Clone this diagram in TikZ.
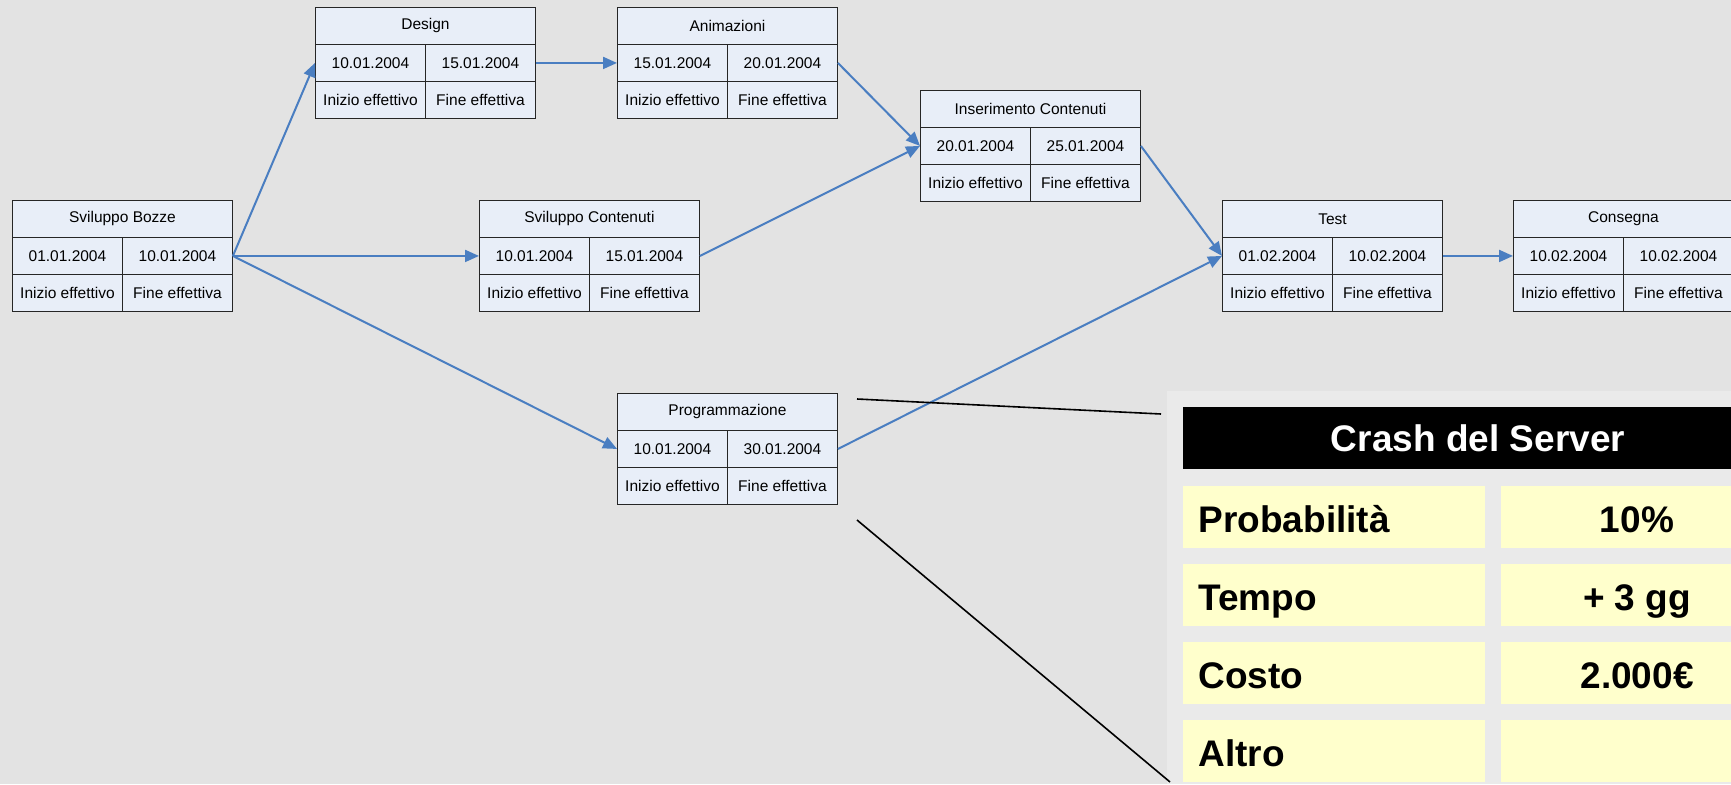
\documentclass[tikz,border=0pt]{standalone}
\usepackage{fontspec}
\setmainfont{Liberation Sans}
\usetikzlibrary{arrows.meta}
\definecolor{bggrey}{RGB}{227,227,227}
\definecolor{panelgrey}{RGB}{234,234,234}
\definecolor{boxfill}{RGB}{232,238,248}
\definecolor{arrblue}{RGB}{74,126,193}
\definecolor{cellyellow}{RGB}{255,255,204}
\tikzset{
  cell/.style={draw=black!85, line width=0.9pt, fill=boxfill, minimum width=110pt, minimum height=37pt,
    anchor=north west, inner sep=0pt, font=\fontsize{15.5}{18}\selectfont},
  ttl/.style={cell, minimum width=220pt},
  arr/.style={draw=arrblue, line width=2pt, -{Triangle[length=14pt,width=12pt]}},
  callout/.style={draw=black, line width=1.6pt},
  ycell/.style={fill=cellyellow, anchor=north west, inner sep=0pt, minimum height=62pt},
  lbl/.style={anchor=base west, font=\fontsize{37}{44}\selectfont\bfseries},
  val/.style={anchor=base, font=\fontsize{37}{44}\selectfont\bfseries}
}
\newcommand{\taskbox}[6]{%
  \node[ttl] (#1) at (#2,#3) {#4};
  \node[cell] (#1s) at (#2,{#3+37}) {#5};
  \node[cell] (#1e) at ({#2+110},{#3+37}) {#6};
  \node[cell] (#1a) at (#2,{#3+74}) {Inizio effettivo};
  \node[cell] (#1b) at ({#2+110},{#3+74}) {Fine effettiva};
}
\begin{document}
\begin{tikzpicture}[x=1pt,y=-1pt]
\useasboundingbox (0,0) rectangle (1731,784);
\fill[bggrey] (0,0) rectangle (1731,784);
% risk panel
\fill[panelgrey] (1167,391) rectangle (1731,784);
\node[fill=black, anchor=north west, minimum width=560pt, minimum height=62pt, inner sep=0pt] (hdr) at (1183,407) {};
\node[anchor=base, text=white, font=\fontsize{37}{44}\selectfont\bfseries] (hdrtxt) at (1478,451) {Crash del Server};
\foreach \r/\yy in {p/486,t/564,c/642,a/720}{
  \node[ycell, minimum width=302pt] (l\r) at (1183,\yy) {};
  \node[ycell, minimum width=240pt] (v\r) at (1501,\yy) {};
}
\node[lbl] (lpt) at (1195,532) {Probabilità};
\node[val] (vpt) at (1637,532) {10\%};
\node[lbl] (ltt) at (1195,610) {Tempo};
\node[val] (vtt) at (1637,610) {+ 3 gg};
\node[lbl] (lct) at (1195,688) {Costo};
\node[val] (vct) at (1637,688) {2.000€};
\node[lbl] (lat) at (1195,766) {Altro};
% task boxes
\taskbox{bozze}{12}{200}{Sviluppo Bozze}{01.01.2004}{10.01.2004}
\taskbox{design}{315}{7}{Design}{10.01.2004}{15.01.2004}
\taskbox{anim}{617}{7}{Animazioni}{15.01.2004}{20.01.2004}
\taskbox{ins}{920}{90}{Inserimento Contenuti}{20.01.2004}{25.01.2004}
\taskbox{svc}{479}{200}{Sviluppo Contenuti}{10.01.2004}{15.01.2004}
\taskbox{test}{1222}{200}{Test}{01.02.2004}{10.02.2004}
\taskbox{cons}{1513}{200}{Consegna}{10.02.2004}{10.02.2004}
\taskbox{prog}{617}{393}{Programmazione}{10.01.2004}{30.01.2004}
% connectors
\draw[arr] (bozzee.east) -- (designs.west);
\draw[arr] (bozzee.east) -- (svcs.west);
\draw[arr] (bozzee.east) -- (progs.west);
\draw[arr] (designe.east) -- (anims.west);
\draw[arr] (anime.east) -- (inss.west);
\draw[arr] (svce.east) -- (inss.west);
\draw[arr] (inse.east) -- (tests.west);
\draw[arr] (proge.east) -- (tests.west);
\draw[arr] (teste.east) -- (conss.west);
% callout lines
\coordinate (c1a) at (857,399);
\coordinate (c1b) at (1161,414);
\coordinate (c2a) at (857,520);
\coordinate (c2b) at (1170,782);
\draw[callout] (c1a) -- (c1b);
\draw[callout] (c2a) -- (c2b);
\end{tikzpicture}
\end{document}
